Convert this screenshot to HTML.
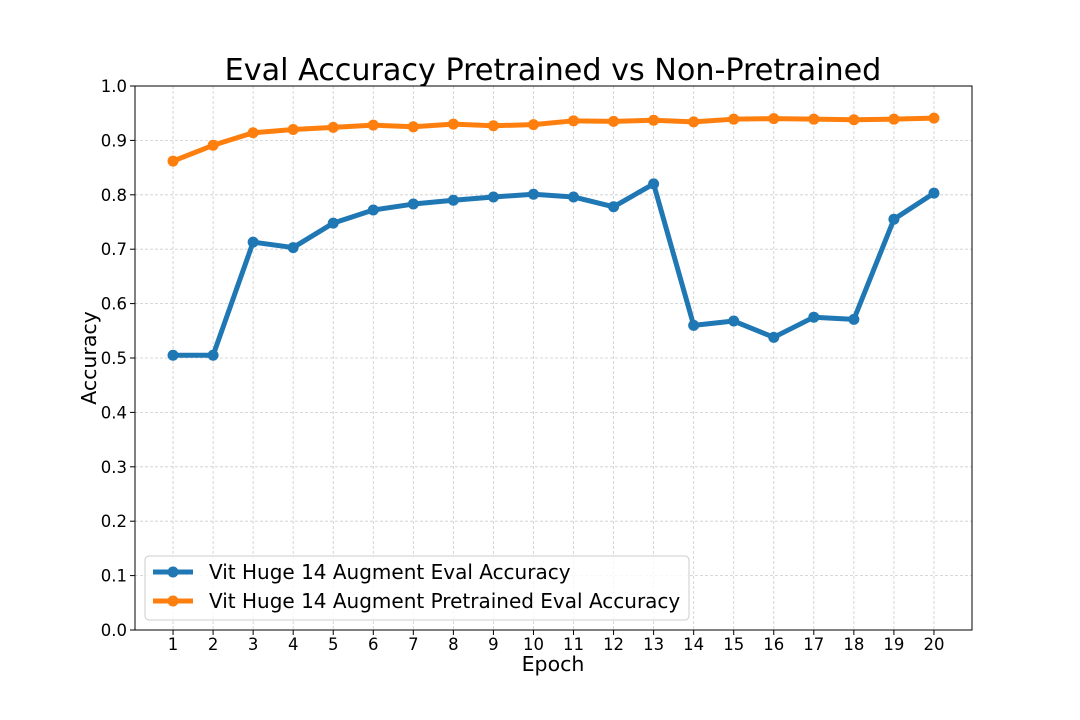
<!DOCTYPE html>
<html><head><meta charset="utf-8"><style>body{margin:0;background:#fff}svg{display:block;font-family:"DejaVu Sans","Liberation Sans",sans-serif}</style></head>
<body>
<svg id="chart" width="1080" height="720" xmlns="http://www.w3.org/2000/svg"></svg>
<script>
const epochs=[1,2,3,4,5,6,7,8,9,10,11,12,13,14,15,16,17,18,19,20];
const blueVals=[0.505,0.505,0.713,0.703,0.748,0.772,0.783,0.790,0.796,0.801,0.796,0.778,0.820,0.560,0.568,0.538,0.575,0.571,0.755,0.803];
const orangeVals=[0.862,0.891,0.914,0.920,0.924,0.928,0.925,0.930,0.927,0.929,0.936,0.935,0.937,0.934,0.939,0.940,0.939,0.938,0.939,0.941];
const yTicks=[0,0.1,0.2,0.3,0.4,0.5,0.6,0.7,0.8,0.9,1.0];
const seriesNames=["Vit Huge 14 Augment Eval Accuracy","Vit Huge 14 Augment Pretrained Eval Accuracy"];
const L=135,R=972,T=86,B=630;
const x=e=>L+(e-0.05)/(20.9)*(R-L);
const y=v=>B-v*(B-T);
const svg=document.getElementById('chart');const NS="http://www.w3.org/2000/svg";
function mk(t,a,p){const el=document.createElementNS(NS,t);for(const k in a)el.setAttribute(k,a[k]);(p||svg).appendChild(el);return el;}
yTicks.forEach(v=>{const g=mk('line',{x1:L,x2:R,y1:y(v),y2:y(v),stroke:'#ccc','stroke-dasharray':'3,2','stroke-width':0.8});

const t=mk('text',{x:L-8,y:y(v)+6,'text-anchor':'end','font-size':16.5});t.textContent=v.toFixed(1);

mk('line',{x1:L-5,x2:L,y1:y(v),y2:y(v),stroke:'#000'});});
epochs.forEach(e=>{const g=mk('line',{x1:x(e),x2:x(e),y1:T,y2:B,stroke:'#ccc','stroke-dasharray':'3,2','stroke-width':0.8});

mk('line',{x1:x(e),x2:x(e),y1:B,y2:B+5,stroke:'#000'});
const t=mk('text',{x:x(e),y:B+20,'text-anchor':'middle','font-size':16.5});t.textContent=e;
});
const fr=mk('rect',{x:L,y:T,width:R-L,height:B-T,fill:'none',stroke:'#000','stroke-width':1});

function series(vals,color,name){const p=mk('polyline',{points:vals.map((v,i)=>x(epochs[i])+','+y(v)).join(' '),fill:'none',stroke:color,'stroke-width':5,'stroke-linejoin':'round'});

vals.forEach((v,i)=>{const c=mk('circle',{cx:x(epochs[i]),cy:y(v),r:5.5,fill:color});
});}
series(blueVals,'#1f77b4','blue-series');series(orangeVals,'#ff7f0e','orange-series');
const tt=mk('text',{x:553,y:80,'text-anchor':'middle','font-size':30.2});tt.textContent="Eval Accuracy Pretrained vs Non-Pretrained";

const xl=mk('text',{x:553,y:671,'text-anchor':'middle','font-size':20.5});xl.textContent="Epoch";

const yl=mk('text',{x:0,y:0,'text-anchor':'middle','font-size':20.5,transform:'translate(96,358) rotate(-90)'});yl.textContent="Accuracy";

const lg=mk('rect',{x:145,y:556,width:544,height:64,rx:4,fill:'#fff','fill-opacity':0.8,stroke:'#ccc'});

[['#1f77b4',572],['#ff7f0e',601]].forEach((s,i)=>{mk('line',{x1:153,x2:193,y1:s[1],y2:s[1],stroke:s[0],'stroke-width':5});
mk('circle',{cx:173,cy:s[1],r:5.5,fill:s[0]});
const t=mk('text',{x:209,y:s[1]+7,'font-size':20});t.textContent=seriesNames[i];
});
</script>
</body></html>
